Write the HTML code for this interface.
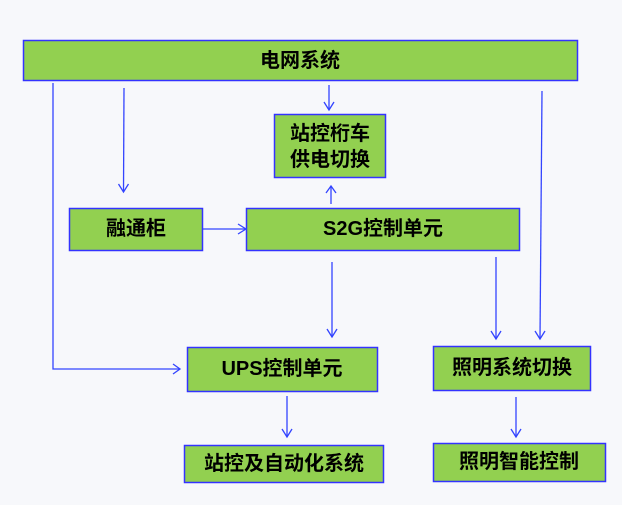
<!DOCTYPE html>
<html><head><meta charset="utf-8"><style>
html,body{margin:0;padding:0;background:#f7f8fb;}
svg{display:block}
text{font-family:"Liberation Sans","Noto Sans CJK SC","WenQuanYi Zen Hei",sans-serif;font-weight:bold;fill:#000;text-anchor:middle;dominant-baseline:central}
</style></head><body>
<svg width="622" height="505" viewBox="0 0 622 505" xmlns="http://www.w3.org/2000/svg">
<rect width="622" height="505" fill="#f7f8fb"/>
<g fill="#92d050" stroke="#3333ff" stroke-width="1.5">
<rect x="23.5" y="40.5" width="554" height="40"/>
<rect x="274.5" y="114.5" width="111" height="63"/>
<rect x="69.5" y="208.5" width="133" height="42"/>
<rect x="246.5" y="208.5" width="273" height="42"/>
<rect x="187.5" y="347.5" width="190" height="44"/>
<rect x="433.5" y="346.5" width="157" height="44"/>
<rect x="184.5" y="445.5" width="199" height="37"/>
<rect x="433.5" y="443.5" width="172" height="38"/>
</g>
<g font-size="20">
<text x="300" y="61">电网系统</text>
<text x="330" y="134">站控桁车</text>
<text x="330" y="160">供电切换</text>
<text x="136" y="229">融通柜</text>
<text x="383" y="229">S2G控制单元</text>
<text x="282" y="369">UPS控制单元</text>
<text x="512" y="368">照明系统切换</text>
<text x="284" y="464">站控及自动化系统</text>
<text x="519" y="462">照明智能控制</text>
</g>
<g stroke="#3344ff" stroke-width="1.3" fill="none">
<polyline points="53,83 53,369 180,369"/>
<polyline points="173,364 180,369 173,374"/>
<line x1="124" y1="88" x2="123.5" y2="192"/>
<polyline points="118.5,184 123.5,192 128.5,184"/>
<line x1="329" y1="85" x2="329" y2="110"/>
<polyline points="324,102 329,110 334,102"/>
<line x1="331" y1="204" x2="331" y2="186"/>
<polyline points="326,193 331,186 336,193"/>
<line x1="203" y1="229" x2="246" y2="229"/>
<polyline points="238,224 246,229 238,234"/>
<line x1="332" y1="262" x2="332" y2="337"/>
<polyline points="327,329 332,337 337,329"/>
<line x1="496" y1="257" x2="496" y2="339"/>
<polyline points="491,331 496,339 501,331"/>
<line x1="542" y1="91" x2="540" y2="339"/>
<polyline points="535,331 540,339 545,331"/>
<line x1="287" y1="396" x2="287" y2="437"/>
<polyline points="282,429 287,437 292,429"/>
<line x1="516" y1="397" x2="516" y2="437"/>
<polyline points="511,429 516,437 521,429"/>
</g>
</svg>
</body></html>
